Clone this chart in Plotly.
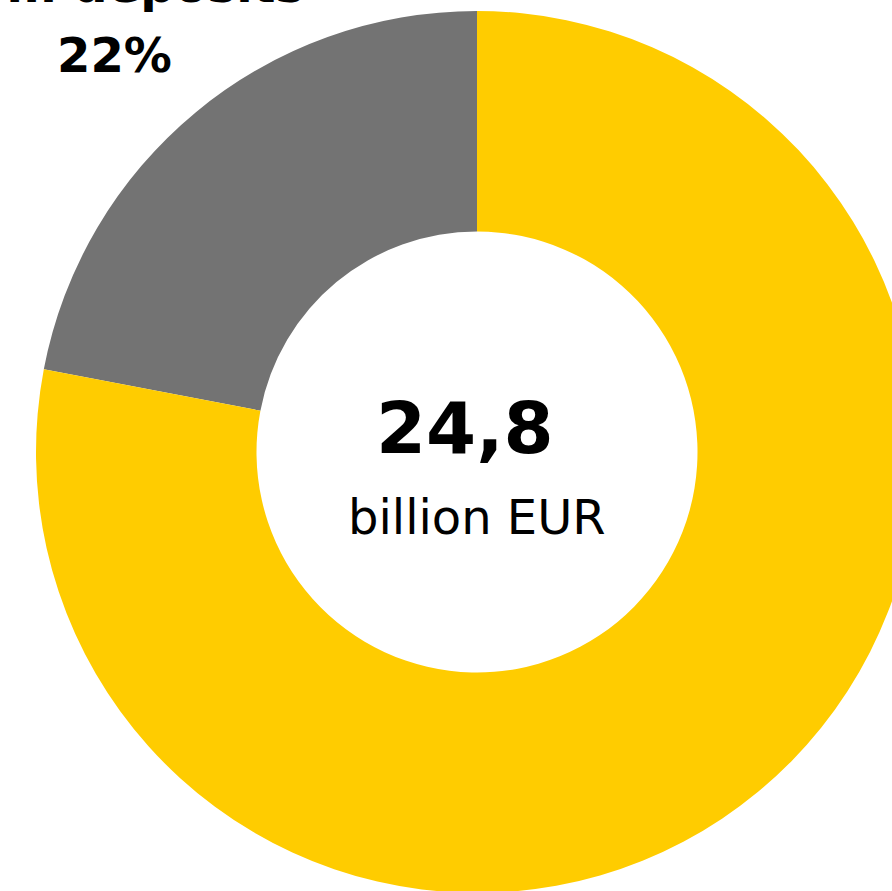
import plotly.graph_objects as go

labels = ["Term deposits", "Other deposits"]
values = [22, 78]
colors = ["#737373", "#FFCC00"]
total_value = "24,8"
total_unit = "billion EUR"

W, H = 954, 904
cx, cy, R = 477, 452, 441

fig = go.Figure(go.Pie(
    labels=labels,
    values=values,
    hole=0.5,
    sort=False,
    direction="clockwise",
    rotation=-360 * values[0] / sum(values),
    marker=dict(colors=colors, line=dict(width=0)),
    textinfo="none",
    hoverinfo="label+percent",
    showlegend=False,
    domain=dict(x=[(cx - R) / W, (cx + R) / W], y=[(H - cy - R) / H, (H - cy + R) / H]),
))

def px(x):
    return x / W

def py(y):
    return 1 - y / H

FONT = "DejaVu Sans"
fig.add_annotation(x=px(465), y=py(428), xref="paper", yref="paper", text=f"<b>{total_value}</b>",
                   showarrow=False, xanchor="center", yanchor="middle",
                   font=dict(family=FONT, size=72, color="#000000"))
fig.add_annotation(x=px(477), y=py(517), xref="paper", yref="paper", text=total_unit,
                   showarrow=False, xanchor="center", yanchor="middle",
                   font=dict(family=FONT, size=48, color="#000000"))
fig.add_annotation(x=px(114), y=py(55), xref="paper", yref="paper", text=f"<b>{values[0]}%</b>",
                   showarrow=False, xanchor="center", yanchor="middle",
                   font=dict(family=FONT, size=48, color="#000000"))
fig.add_annotation(x=px(114), y=py(-15), xref="paper", yref="paper", text=f"<b>{labels[0]}</b>",
                   showarrow=False, xanchor="center", yanchor="middle",
                   font=dict(family=FONT, size=48, color="#000000"))

fig.update_layout(
    width=W, height=H,
    autosize=False,
    margin=dict(l=0, r=0, t=0, b=0),
    paper_bgcolor="white",
    plot_bgcolor="white",
)

fig.write_html("out.html", post_script="document.body.style.margin='0';document.body.style.overflow='hidden';")
